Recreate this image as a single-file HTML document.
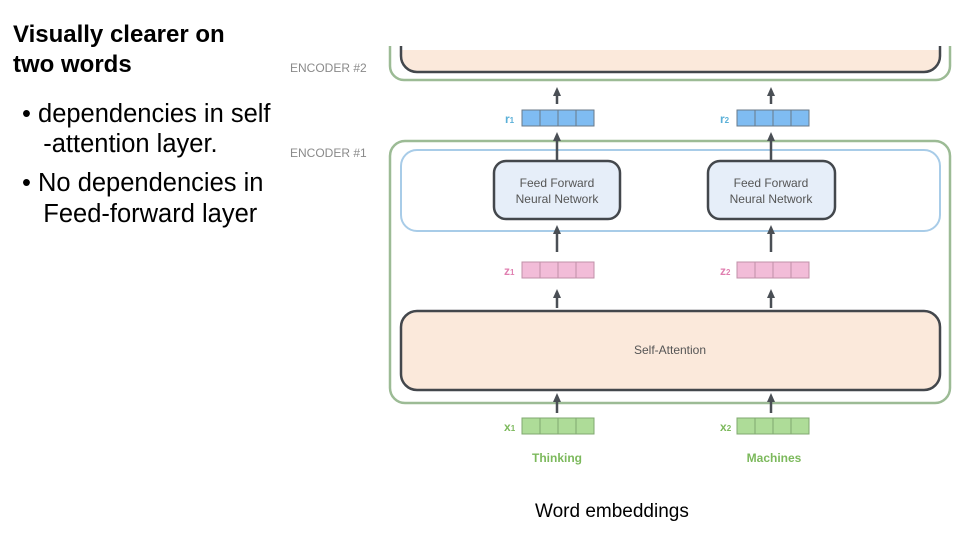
<!DOCTYPE html>
<html><head><meta charset="utf-8"><style>
body{margin:0;width:960px;height:540px;background:#fff;position:relative;overflow:hidden;font-family:"Liberation Sans",sans-serif}
.t{position:absolute;white-space:nowrap}
</style></head><body>
<div class="t" style="left:13px;top:20px;font-size:24px;font-weight:bold;line-height:30px;color:#000">Visually clearer on<br>two words</div>
<div class="t" style="left:22px;top:99px;font-size:25.5px;line-height:30px;color:#000">• dependencies in self<br>&nbsp;&nbsp;&nbsp;-attention layer.</div>
<div class="t" style="left:22px;top:168px;font-size:25.5px;line-height:31px;color:#000">• No dependencies in<br>&nbsp;&nbsp;&nbsp;Feed-forward layer</div>
<div class="t" style="left:535px;top:501px;font-size:19px;color:#000">Word embeddings</div>
<svg width="960" height="540" style="position:absolute;left:0;top:0" font-family="Liberation Sans, sans-serif">
<defs><marker id="a" markerUnits="userSpaceOnUse" markerWidth="10" markerHeight="10" refX="1" refY="5" orient="auto"><path d="M0,1L9,5L0,9z" fill="#4a4f55"/></marker></defs>
<text x="290" y="72" font-size="12" fill="#8a8a8a">ENCODER #2</text>
<text x="290" y="157" font-size="12" fill="#8a8a8a">ENCODER #1</text>
<path d="M390,46 V66 a14,14 0 0 0 14,14 H936 a14,14 0 0 0 14,-14 V46" fill="none" stroke="#9cbb95" stroke-width="2.5"/>
<path d="M401,50 V56 a16,16 0 0 0 16,16 H924 a16,16 0 0 0 16,-16 V50 z" fill="#fbe9db"/>
<path d="M401,46 V56 a16,16 0 0 0 16,16 H924 a16,16 0 0 0 16,-16 V46" fill="none" stroke="#43474c" stroke-width="2.5"/>
<rect x="390" y="141" width="560" height="262" rx="15" fill="none" stroke="#9cbb95" stroke-width="2.5"/>
<rect x="401" y="150" width="539" height="81" rx="16" fill="none" stroke="#a8cce8" stroke-width="2"/>
<rect x="494" y="161" width="126" height="58" rx="12" fill="#e6eef9" stroke="#43474c" stroke-width="2.5"/>
<rect x="708" y="161" width="127" height="58" rx="12" fill="#e6eef9" stroke="#43474c" stroke-width="2.5"/>
<text x="557" y="187" font-size="12" fill="#555" text-anchor="middle">Feed Forward</text>
<text x="557" y="203" font-size="12" fill="#555" text-anchor="middle">Neural Network</text>
<text x="771" y="187" font-size="12" fill="#555" text-anchor="middle">Feed Forward</text>
<text x="771" y="203" font-size="12" fill="#555" text-anchor="middle">Neural Network</text>
<rect x="401" y="311" width="539" height="79" rx="16" fill="#fbe9db" stroke="#43474c" stroke-width="2.5"/>
<text x="670" y="354" font-size="12" fill="#555" text-anchor="middle">Self-Attention</text>
<g stroke="#4a4f55" stroke-width="2.5" marker-end="url(#a)">
<line x1="557" y1="104" x2="557" y2="95"/><line x1="771" y1="104" x2="771" y2="95"/>
<line x1="557" y1="160" x2="557" y2="140"/><line x1="771" y1="160" x2="771" y2="140"/>
<line x1="557" y1="252" x2="557" y2="233"/><line x1="771" y1="252" x2="771" y2="233"/>
<line x1="557" y1="308" x2="557" y2="297"/><line x1="771" y1="308" x2="771" y2="297"/>
<line x1="557" y1="413" x2="557" y2="401"/><line x1="771" y1="413" x2="771" y2="401"/>
</g>
<g stroke="#6a7a88" stroke-width="1">
<g fill="#7fbcf2"><rect x="522" y="110" width="72" height="16"/><rect x="737" y="110" width="72" height="16"/></g>
<g fill="#f2bcd8" stroke="#c090a8"><rect x="522" y="262" width="72" height="16"/><rect x="737" y="262" width="72" height="16"/></g>
<g fill="#aedc98" stroke="#80a870"><rect x="522" y="418" width="72" height="16"/><rect x="737" y="418" width="72" height="16"/></g>
<path d="M540,110v16M558,110v16M576,110v16M755,110v16M773,110v16M791,110v16"/>
<path d="M540,262v16M558,262v16M576,262v16M755,262v16M773,262v16M791,262v16" stroke="#c090a8"/>
<path d="M540,418v16M558,418v16M576,418v16M755,418v16M773,418v16M791,418v16" stroke="#80a870"/>
</g>
<g font-size="12" font-weight="bold">
<text x="505" y="123" fill="#5ab0d8">r<tspan font-size="8">1</tspan></text>
<text x="720" y="123" fill="#5ab0d8">r<tspan font-size="8">2</tspan></text>
<text x="504" y="275" fill="#e07fb0">z<tspan font-size="8">1</tspan></text>
<text x="720" y="275" fill="#e07fb0">z<tspan font-size="8">2</tspan></text>
<text x="504" y="431" fill="#7cb95c">x<tspan font-size="8">1</tspan></text>
<text x="720" y="431" fill="#7cb95c">x<tspan font-size="8">2</tspan></text>
<text x="557" y="462" fill="#7cb95c" text-anchor="middle">Thinking</text>
<text x="774" y="462" fill="#7cb95c" text-anchor="middle">Machines</text>
</g>
</svg>
</body></html>
